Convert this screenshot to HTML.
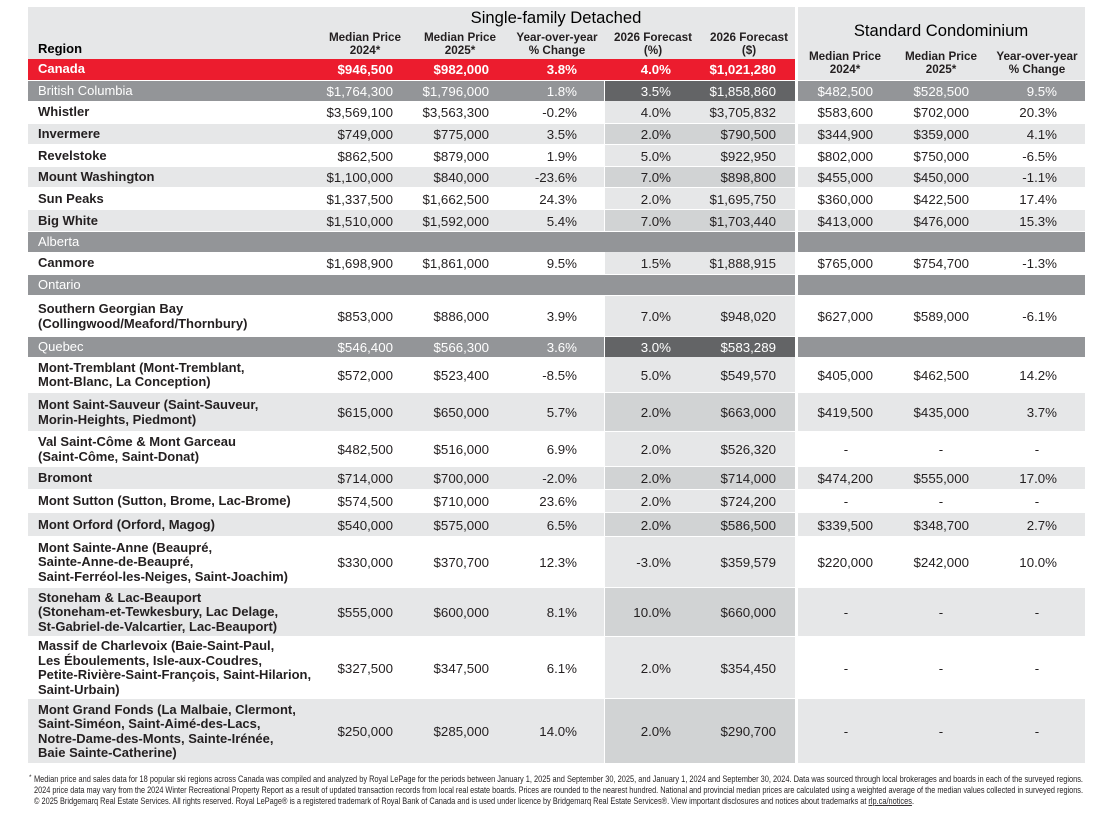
<!DOCTYPE html>
<html><head><meta charset="utf-8">
<style>
html,body{margin:0;padding:0;background:#fff;}
#w{position:relative;width:1110px;height:815px;overflow:hidden;background:#fff;font-family:"Liberation Sans",Arial,sans-serif;color:#231f20;}
.b{position:absolute;}
.row{position:absolute;left:0;width:1110px;}
.c{position:absolute;top:0;height:100%;display:flex;align-items:center;justify-content:flex-end;font-size:13.3px;white-space:nowrap;}
.n{left:38px;width:262px;justify-content:flex-start;font-weight:bold;font-size:13px;line-height:14.5px;}
.c1{left:300px;width:93px}.c2{left:393px;width:96px}.c3{left:489px;width:88px}
.c4{left:605px;width:66px}.c5{left:671px;width:105px}
.c6{left:798px;width:75px}.c7{left:873px;width:96px}.c8{left:969px;width:88px}
.d6{left:816px;width:60px;justify-content:center}.d7{left:911px;width:60px;justify-content:center}.d8{left:1007px;width:60px;justify-content:center}
.sf{left:28px;width:576px;top:0}.fc{left:605px;width:190px;top:0}.co{left:798px;width:287px;top:0}.all{left:28px;width:767px;top:0}
.h{position:absolute;width:110px;text-align:center;font-weight:bold;font-size:11.7px;line-height:13px;color:#231f20;}
.wt{color:#fff;}
.wt .n{font-weight:normal;}
.bold .c{font-weight:bold;}
</style></head><body><div id="w">

<!-- header backgrounds -->
<div class="b" style="left:28px;top:7px;width:767px;height:52px;background:#e6e7e8"></div>
<div class="b" style="left:798px;top:7px;width:287px;height:73px;background:#e6e7e8"></div>

<div class="b" style="left:406px;top:7px;width:300px;height:21px;text-align:center;font-size:16.6px;line-height:21px;color:#000">Single-family Detached</div>
<div class="b" style="left:791px;top:20px;width:300px;height:21px;text-align:center;font-size:16.6px;line-height:21px;color:#000">Standard Condominium</div>

<div class="b" style="left:38px;top:41px;font-weight:bold;font-size:13px;line-height:16px;color:#000">Region</div>

<div class="h" style="left:310px;top:31px">Median Price<br>2024*</div>
<div class="h" style="left:405px;top:31px">Median Price<br>2025*</div>
<div class="h" style="left:502px;top:31px">Year-over-year<br>% Change</div>
<div class="h" style="left:598px;top:31px">2026 Forecast<br>(%)</div>
<div class="h" style="left:694px;top:31px">2026 Forecast<br>($)</div>
<div class="h" style="left:790px;top:50px">Median Price<br>2024*</div>
<div class="h" style="left:886px;top:50px">Median Price<br>2025*</div>
<div class="h" style="left:982px;top:50px">Year-over-year<br>% Change</div>

<!-- Canada -->
<div class="row wt bold" style="top:59px;height:21px">
<div class="b all" style="height:21px;background:#ec1c2e"></div>
<div class="c n" style="font-weight:bold">Canada</div>
<div class="c c1">$946,500</div><div class="c c2">$982,000</div><div class="c c3">3.8%</div><div class="c c4">4.0%</div><div class="c c5">$1,021,280</div>
</div>

<!-- British Columbia -->
<div class="row wt" style="top:81px;height:20px">
<div class="b sf" style="height:20px;background:#939598"></div><div class="b fc" style="height:20px;background:#636466"></div><div class="b co" style="height:20px;background:#939598"></div>
<div class="c n">British Columbia</div>
<div class="c c1">$1,764,300</div><div class="c c2">$1,796,000</div><div class="c c3">1.8%</div><div class="c c4">3.5%</div><div class="c c5">$1,858,860</div><div class="c c6">$482,500</div><div class="c c7">$528,500</div><div class="c c8">9.5%</div>
</div>

<div class="row" style="top:101px;height:23px">
<div class="b fc" style="height:22px;background:#e6e7e8"></div>
<div class="c n">Whistler</div>
<div class="c c1">$3,569,100</div><div class="c c2">$3,563,300</div><div class="c c3">-0.2%</div><div class="c c4">4.0%</div><div class="c c5">$3,705,832</div><div class="c c6">$583,600</div><div class="c c7">$702,000</div><div class="c c8">20.3%</div>
</div>

<div class="row" style="top:124px;height:21px">
<div class="b sf" style="height:20px;background:#e6e7e8"></div><div class="b fc" style="height:20px;background:#d1d3d4"></div><div class="b co" style="height:20px;background:#e6e7e8"></div>
<div class="c n">Invermere</div>
<div class="c c1">$749,000</div><div class="c c2">$775,000</div><div class="c c3">3.5%</div><div class="c c4">2.0%</div><div class="c c5">$790,500</div><div class="c c6">$344,900</div><div class="c c7">$359,000</div><div class="c c8">4.1%</div>
</div>

<div class="row" style="top:145px;height:22px">
<div class="b fc" style="height:21px;background:#e6e7e8"></div>
<div class="c n">Revelstoke</div>
<div class="c c1">$862,500</div><div class="c c2">$879,000</div><div class="c c3">1.9%</div><div class="c c4">5.0%</div><div class="c c5">$922,950</div><div class="c c6">$802,000</div><div class="c c7">$750,000</div><div class="c c8">-6.5%</div>
</div>

<div class="row" style="top:167px;height:21px">
<div class="b sf" style="height:20px;background:#e6e7e8"></div><div class="b fc" style="height:20px;background:#d1d3d4"></div><div class="b co" style="height:20px;background:#e6e7e8"></div>
<div class="c n">Mount Washington</div>
<div class="c c1">$1,100,000</div><div class="c c2">$840,000</div><div class="c c3">-23.6%</div><div class="c c4">7.0%</div><div class="c c5">$898,800</div><div class="c c6">$455,000</div><div class="c c7">$450,000</div><div class="c c8">-1.1%</div>
</div>

<div class="row" style="top:188px;height:22px">
<div class="b fc" style="height:21px;background:#e6e7e8"></div>
<div class="c n">Sun Peaks</div>
<div class="c c1">$1,337,500</div><div class="c c2">$1,662,500</div><div class="c c3">24.3%</div><div class="c c4">2.0%</div><div class="c c5">$1,695,750</div><div class="c c6">$360,000</div><div class="c c7">$422,500</div><div class="c c8">17.4%</div>
</div>

<div class="row" style="top:210px;height:22px">
<div class="b sf" style="height:21px;background:#e6e7e8"></div><div class="b fc" style="height:21px;background:#d1d3d4"></div><div class="b co" style="height:21px;background:#e6e7e8"></div>
<div class="c n">Big White</div>
<div class="c c1">$1,510,000</div><div class="c c2">$1,592,000</div><div class="c c3">5.4%</div><div class="c c4">7.0%</div><div class="c c5">$1,703,440</div><div class="c c6">$413,000</div><div class="c c7">$476,000</div><div class="c c8">15.3%</div>
</div>

<!-- Alberta -->
<div class="row wt" style="top:232px;height:20px">
<div class="b all" style="height:20px;background:#939598"></div><div class="b co" style="height:20px;background:#939598"></div>
<div class="c n">Alberta</div>
</div>

<div class="row" style="top:252px;height:23px">
<div class="b fc" style="height:22px;background:#e6e7e8"></div>
<div class="c n">Canmore</div>
<div class="c c1">$1,698,900</div><div class="c c2">$1,861,000</div><div class="c c3">9.5%</div><div class="c c4">1.5%</div><div class="c c5">$1,888,915</div><div class="c c6">$765,000</div><div class="c c7">$754,700</div><div class="c c8">-1.3%</div>
</div>

<!-- Ontario -->
<div class="row wt" style="top:275px;height:21px">
<div class="b all" style="height:20px;background:#939598"></div><div class="b co" style="height:20px;background:#939598"></div>
<div class="c n">Ontario</div>
</div>

<div class="row" style="top:296px;height:41px">
<div class="b fc" style="height:40px;background:#e6e7e8"></div>
<div class="c n">Southern Georgian Bay<br>(Collingwood/Meaford/Thornbury)</div>
<div class="c c1">$853,000</div><div class="c c2">$886,000</div><div class="c c3">3.9%</div><div class="c c4">7.0%</div><div class="c c5">$948,020</div><div class="c c6">$627,000</div><div class="c c7">$589,000</div><div class="c c8">-6.1%</div>
</div>

<!-- Quebec -->
<div class="row wt" style="top:337px;height:20px">
<div class="b sf" style="height:20px;background:#939598"></div><div class="b fc" style="height:20px;background:#636466"></div><div class="b co" style="height:20px;background:#939598"></div>
<div class="c n">Quebec</div>
<div class="c c1">$546,400</div><div class="c c2">$566,300</div><div class="c c3">3.6%</div><div class="c c4">3.0%</div><div class="c c5">$583,289</div>
</div>

<div class="row" style="top:357px;height:36px">
<div class="b fc" style="height:35px;background:#e6e7e8"></div>
<div class="c n">Mont-Tremblant (Mont-Tremblant,<br>Mont-Blanc, La Conception)</div>
<div class="c c1">$572,000</div><div class="c c2">$523,400</div><div class="c c3">-8.5%</div><div class="c c4">5.0%</div><div class="c c5">$549,570</div><div class="c c6">$405,000</div><div class="c c7">$462,500</div><div class="c c8">14.2%</div>
</div>

<div class="row" style="top:393px;height:39px">
<div class="b sf" style="height:38px;background:#e6e7e8"></div><div class="b fc" style="height:38px;background:#d1d3d4"></div><div class="b co" style="height:38px;background:#e6e7e8"></div>
<div class="c n">Mont Saint-Sauveur (Saint-Sauveur,<br>Morin-Heights, Piedmont)</div>
<div class="c c1">$615,000</div><div class="c c2">$650,000</div><div class="c c3">5.7%</div><div class="c c4">2.0%</div><div class="c c5">$663,000</div><div class="c c6">$419,500</div><div class="c c7">$435,000</div><div class="c c8">3.7%</div>
</div>

<div class="row" style="top:432px;height:35px">
<div class="b fc" style="height:34px;background:#e6e7e8"></div>
<div class="c n">Val Saint-Côme &amp; Mont Garceau<br>(Saint-Côme, Saint-Donat)</div>
<div class="c c1">$482,500</div><div class="c c2">$516,000</div><div class="c c3">6.9%</div><div class="c c4">2.0%</div><div class="c c5">$526,320</div><div class="c d6">-</div><div class="c d7">-</div><div class="c d8">-</div>
</div>

<div class="row" style="top:467px;height:23px">
<div class="b sf" style="height:22px;background:#e6e7e8"></div><div class="b fc" style="height:22px;background:#d1d3d4"></div><div class="b co" style="height:22px;background:#e6e7e8"></div>
<div class="c n">Bromont</div>
<div class="c c1">$714,000</div><div class="c c2">$700,000</div><div class="c c3">-2.0%</div><div class="c c4">2.0%</div><div class="c c5">$714,000</div><div class="c c6">$474,200</div><div class="c c7">$555,000</div><div class="c c8">17.0%</div>
</div>

<div class="row" style="top:490px;height:23px">
<div class="b fc" style="height:22px;background:#e6e7e8"></div>
<div class="c n">Mont Sutton (Sutton, Brome, Lac-Brome)</div>
<div class="c c1">$574,500</div><div class="c c2">$710,000</div><div class="c c3">23.6%</div><div class="c c4">2.0%</div><div class="c c5">$724,200</div><div class="c d6">-</div><div class="c d7">-</div><div class="c d8">-</div>
</div>

<div class="row" style="top:513px;height:24px">
<div class="b sf" style="height:23px;background:#e6e7e8"></div><div class="b fc" style="height:23px;background:#d1d3d4"></div><div class="b co" style="height:23px;background:#e6e7e8"></div>
<div class="c n">Mont Orford (Orford, Magog)</div>
<div class="c c1">$540,000</div><div class="c c2">$575,000</div><div class="c c3">6.5%</div><div class="c c4">2.0%</div><div class="c c5">$586,500</div><div class="c c6">$339,500</div><div class="c c7">$348,700</div><div class="c c8">2.7%</div>
</div>

<div class="row" style="top:537px;height:51px">
<div class="b fc" style="height:50px;background:#e6e7e8"></div>
<div class="c n">Mont Sainte-Anne (Beaupré,<br>Sainte-Anne-de-Beaupré,<br>Saint-Ferréol-les-Neiges, Saint-Joachim)</div>
<div class="c c1">$330,000</div><div class="c c2">$370,700</div><div class="c c3">12.3%</div><div class="c c4">-3.0%</div><div class="c c5">$359,579</div><div class="c c6">$220,000</div><div class="c c7">$242,000</div><div class="c c8">10.0%</div>
</div>

<div class="row" style="top:588px;height:49px">
<div class="b sf" style="height:48px;background:#e6e7e8"></div><div class="b fc" style="height:48px;background:#d1d3d4"></div><div class="b co" style="height:48px;background:#e6e7e8"></div>
<div class="c n">Stoneham &amp; Lac-Beauport<br>(Stoneham-et-Tewkesbury, Lac Delage,<br>St-Gabriel-de-Valcartier, Lac-Beauport)</div>
<div class="c c1">$555,000</div><div class="c c2">$600,000</div><div class="c c3">8.1%</div><div class="c c4">10.0%</div><div class="c c5">$660,000</div><div class="c d6">-</div><div class="c d7">-</div><div class="c d8">-</div>
</div>

<div class="row" style="top:637px;height:62px">
<div class="b fc" style="height:61px;background:#e6e7e8"></div>
<div class="c n">Massif de Charlevoix (Baie-Saint-Paul,<br>Les Éboulements, Isle-aux-Coudres,<br>Petite-Rivière-Saint-François, Saint-Hilarion,<br>Saint-Urbain)</div>
<div class="c c1">$327,500</div><div class="c c2">$347,500</div><div class="c c3">6.1%</div><div class="c c4">2.0%</div><div class="c c5">$354,450</div><div class="c d6">-</div><div class="c d7">-</div><div class="c d8">-</div>
</div>

<div class="row" style="top:699px;height:65px">
<div class="b sf" style="height:64px;background:#e6e7e8"></div><div class="b fc" style="height:64px;background:#d1d3d4"></div><div class="b co" style="height:64px;background:#e6e7e8"></div>
<div class="c n">Mont Grand Fonds (La Malbaie, Clermont,<br>Saint-Siméon, Saint-Aimé-des-Lacs,<br>Notre-Dame-des-Monts, Sainte-Irénée,<br>Baie Sainte-Catherine)</div>
<div class="c c1">$250,000</div><div class="c c2">$285,000</div><div class="c c3">14.0%</div><div class="c c4">2.0%</div><div class="c c5">$290,700</div><div class="c d6">-</div><div class="c d7">-</div><div class="c d8">-</div>
</div>

<!-- footer -->
<svg class="b" style="left:0;top:0" width="1110" height="815" viewBox="0 0 1110 815">
<g font-family="Liberation Sans, Arial, sans-serif" font-size="9.2" fill="#231f20">
<text x="29" y="779" font-size="6.5">*</text>
<text x="34" y="782" textLength="1049" lengthAdjust="spacingAndGlyphs">Median price and sales data for 18 popular ski regions across Canada was compiled and analyzed by Royal LePage for the periods between January 1, 2025 and September 30, 2025, and January 1, 2024 and September 30, 2024. Data was sourced through local brokerages and boards in each of the surveyed regions.</text>
<text x="34" y="793" textLength="1049" lengthAdjust="spacingAndGlyphs">2024 price data may vary from the 2024 Winter Recreational Property Report as a result of updated transaction records from local real estate boards. Prices are rounded to the nearest hundred. National and provincial median prices are calculated using a weighted average of the median values collected in surveyed regions.</text>
<text x="34" y="804" textLength="880" lengthAdjust="spacingAndGlyphs">© 2025 Bridgemarq Real Estate Services. All rights reserved. Royal LePage® is a registered trademark of Royal Bank of Canada and is used under licence by Bridgemarq Real Estate Services®. View important disclosures and notices about trademarks at <tspan text-decoration="underline">rlp.ca/notices</tspan>.</text>
</g>
</svg>

</div></body></html>
